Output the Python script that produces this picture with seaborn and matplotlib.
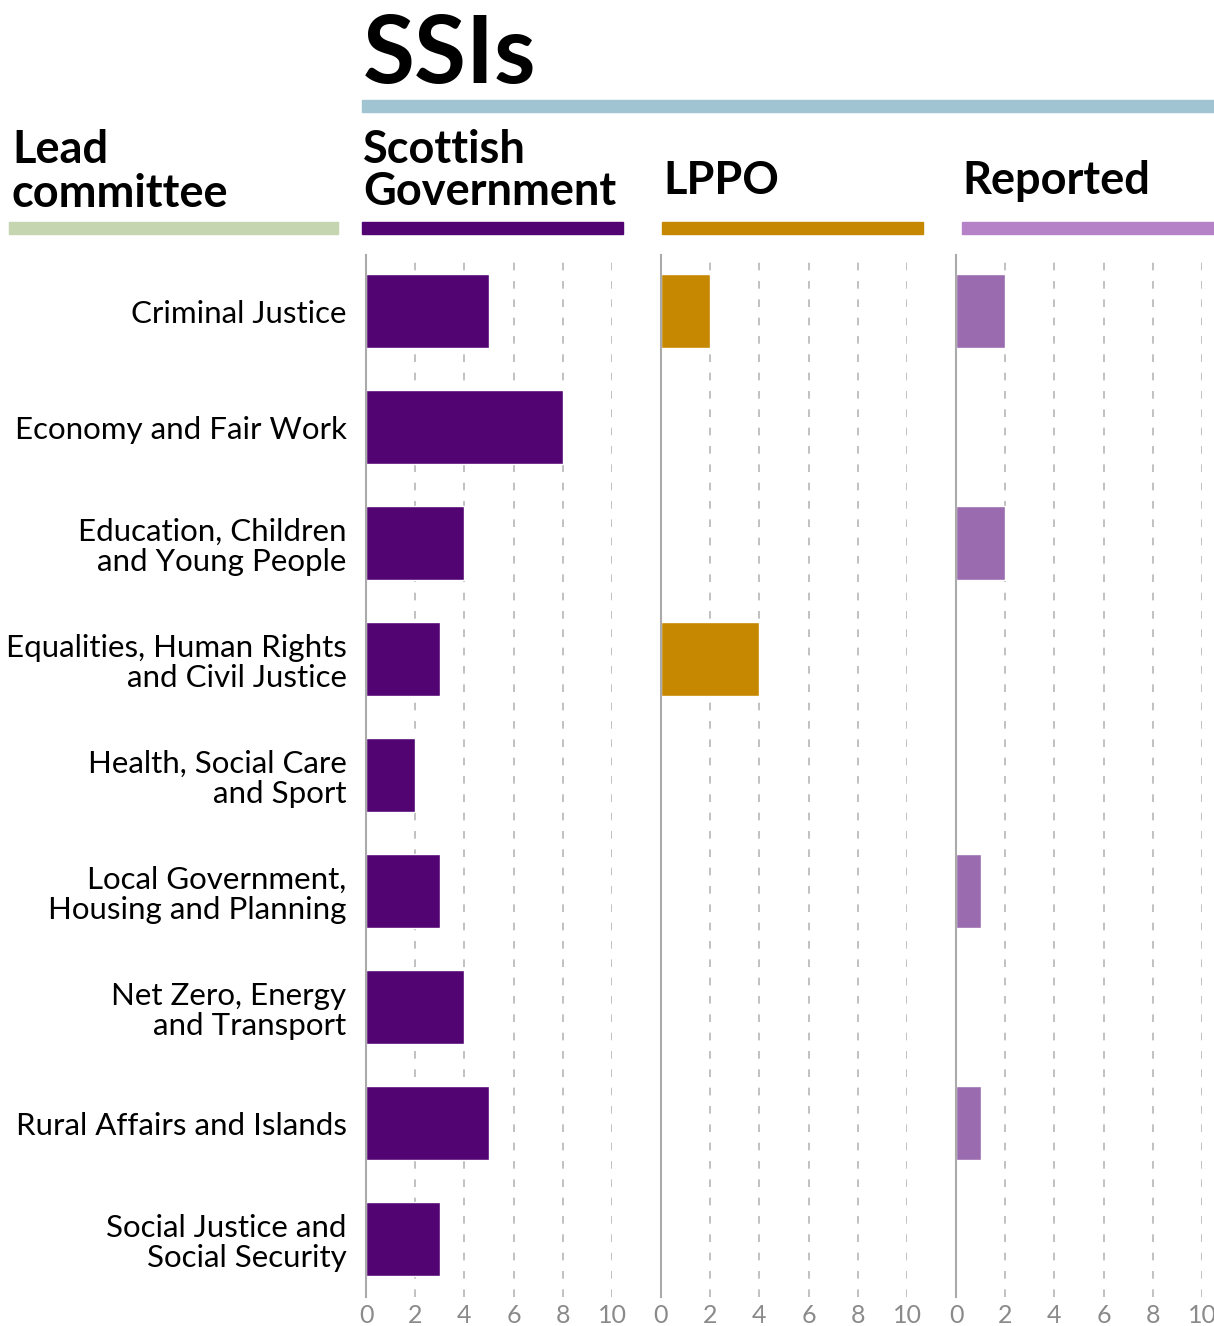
import pandas as pd
import seaborn as sns
from matplotlib import pyplot as plt
from matplotlib.patches import Rectangle

committees = [
    'Criminal Justice',
    'Economy and Fair Work',
    'Education, Children\nand Young People',
    'Equalities, Human Rights\nand Civil Justice',
    'Health, Social Care\nand Sport',
    'Local Government,\nHousing and Planning',
    'Net Zero, Energy\nand Transport',
    'Rural Affairs and Islands',
    'Social Justice and\nSocial Security',
]
scottish_gov = [5, 8, 4, 3, 2, 3, 4, 5, 3]
lppo = [2, 0, 0, 4, 0, 0, 0, 0, 0]
reported = [2, 0, 2, 0, 0, 1, 0, 1, 0]
x_ticks = [0, 2, 4, 6, 8, 10]

W, H = 1214, 1326

sns.set_style('white')
plt.rcParams['font.family'] = ['Lato', 'DejaVu Sans']
plt.rcParams['text.color'] = 'black'

df = pd.DataFrame({'committee': committees, 'sg': scottish_gov,
                   'lppo': lppo, 'reported': reported})

fig = plt.figure(figsize=(W / 100, H / 100), dpi=100)


def fx(px):
    return px / W


def fy(py):
    return 1 - py / H


panels = [
    ('sg', '#520472', 366),
    ('lppo', '#C68800', 661),
    ('reported', '#9A6BAE', 956),
]

ax_bottom, ax_top = 1297, 255
for i, (col, colour, left) in enumerate(panels):
    ax = fig.add_axes([fx(left), fy(ax_bottom), fx(246), (ax_bottom - ax_top) / H])
    sns.barplot(data=df, x=col, y='committee', color=colour, width=0.63,
                saturation=1, ax=ax, orient='h')
    ax.set_xlim(0, 10)
    ax.set_ylim(8.5, -0.483)
    ax.set_xticks(x_ticks)
    ax.set_xticklabels([str(t) for t in x_ticks], color='#8a8a8a', fontsize=18)
    ax.tick_params(axis='x', length=0, pad=5)
    ax.tick_params(axis='y', length=0, pad=14)
    for t in x_ticks[1:]:
        ax.axvline(t, color='#b0b0b0', lw=1.1, ls=(0, (5, 7)), zorder=0)
    for s in ['top', 'right', 'bottom']:
        ax.spines[s].set_visible(False)
    ax.spines['left'].set_color('#aaaaaa')
    ax.spines['left'].set_linewidth(1.5)
    ax.set_xlabel('')
    ax.set_ylabel('')
    if i == 0:
        for lab in ax.get_yticklabels():
            lab.set_fontsize(22.5)
            lab.set_color('black')
            lab.set_linespacing(1.1)
    else:
        ax.set_yticklabels([])

# title and headers
fig.text(fx(363), fy(83), 'SSIs', fontsize=68, fontweight='bold', va='baseline',
         color='black')
fig.patches.append(Rectangle((fx(362), fy(112)), fx(W - 362), 12 / H,
                             transform=fig.transFigure, color='#A1C4D2'))

hdr = dict(fontsize=32.5, fontweight='bold', va='baseline', color='black')
fig.text(fx(12), fy(163), 'Lead', **hdr)
fig.text(fx(12), fy(207), 'committee', **hdr)
fig.text(fx(363), fy(163), 'Scottish', **hdr)
fig.text(fx(363), fy(205), 'Government', **hdr)
fig.text(fx(663), fy(194), 'LPPO', **hdr)
fig.text(fx(962), fy(194), 'Reported', **hdr)

underlines = [
    (9, 338, '#C5D5B0'),
    (362, 623, '#520472'),
    (662, 923, '#C68800'),
    (962, W, '#B582C8'),
]
for x0, x1, c in underlines:
    fig.patches.append(Rectangle((fx(x0), fy(234)), fx(x1 - x0), 12 / H,
                                 transform=fig.transFigure, color=c))

fig.savefig('out.png', dpi=100)
